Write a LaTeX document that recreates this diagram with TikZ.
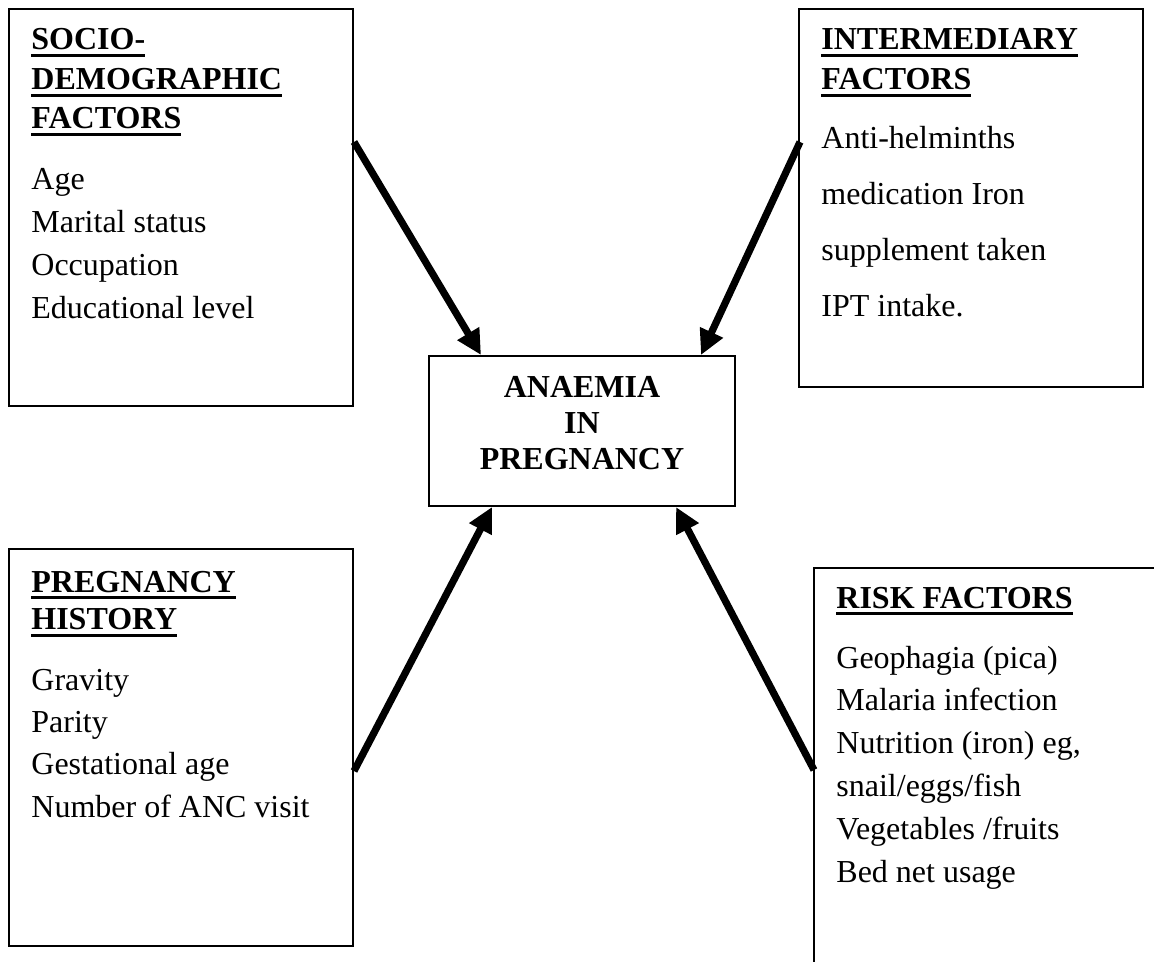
\documentclass[tikz,border=0pt]{standalone}
\usepackage{fontspec}
\setmainfont{Liberation Serif}
\usetikzlibrary{arrows.meta,calc}
\newcommand\hul[1]{\setbox0\hbox{#1}\rlap{\rule[-3.6pt]{\wd0}{1.5pt}}\box0}
\begin{document}
\begin{tikzpicture}[x=0.5pt,y=-0.5pt,
  box/.style={draw,line width=1pt,rectangle,inner sep=0pt},
  txt/.style={anchor=base west,inner sep=0pt,font=\fontsize{16}{19}\selectfont},
  head/.style={anchor=base west,inner sep=0pt,font=\fontsize{16}{19}\selectfont\bfseries},
  ctxt/.style={anchor=base,inner sep=0pt,font=\fontsize{16}{19}\selectfont\bfseries},
  arr/.style={line width=3.6pt,-{Triangle[length=12.5pt,width=12pt]}}]
\useasboundingbox (0,0) rectangle (1154,962);
\fill[white] (0,0) rectangle (1154,962);
% boxes
\node[box,minimum width=172pt,minimum height=198.5pt] (b1) at (181,207.5) {};
\node[box,minimum width=172pt,minimum height=189pt] (b2) at (971,198) {};
\node[box,minimum width=153pt,minimum height=75pt] (c) at (582,431) {};
\node[box,minimum width=172pt,minimum height=198.5pt] (b3) at (181,747.5) {};
\coordinate (b4) at (814,568);
\draw[line width=1pt] (1154,568) -- (b4) -- (814,962);
% box 1
\node[head] (h1a) at (31,50) {\hul{SOCIO-}};
\node[head] (h1b) at (31,89.5) {\hul{DEMOGRAPHIC}};
\node[head] (h1c) at (31,129) {\hul{FACTORS}};
\node[txt] (t1a) at (31,190) {Age};
\node[txt] (t1b) at (31,232.7) {Marital status};
\node[txt] (t1c) at (31,275.4) {Occupation};
\node[txt] (t1d) at (31,318) {Educational level};
% box 2
\node[head] (h2a) at (821,50) {\hul{INTERMEDIARY}};
\node[head] (h2b) at (821,89.5) {\hul{FACTORS}};
\node[txt] (t2a) at (821,149) {Anti-helminths};
\node[txt] (t2b) at (821,204.7) {medication Iron};
\node[txt] (t2c) at (821,260.4) {supplement taken};
\node[txt] (t2d) at (821,316) {IPT intake.};
% centre
\node[ctxt] (c1) at (582,397) {ANAEMIA};
\node[ctxt] (c2) at (582,433) {IN};
\node[ctxt] (c3) at (582,469.5) {PREGNANCY};
% box 3
\node[head] (h3a) at (31,592) {\hul{PREGNANCY}};
\node[head] (h3b) at (31,629.5) {\hul{HISTORY}};
\node[txt] (t3a) at (31,690) {Gravity};
\node[txt] (t3b) at (31,732.3) {Parity};
\node[txt] (t3c) at (31,774.7) {Gestational age};
\node[txt] (t3d) at (31,817) {Number of ANC visit};
% box 4
\node[head] (h4a) at (836,608) {\hul{RISK FACTORS}};
\node[txt] (t4a) at (836,668) {Geophagia (pica)};
\node[txt] (t4b) at (836,710.8) {Malaria infection};
\node[txt] (t4c) at (836,753.6) {Nutrition (iron) eg,};
\node[txt] (t4d) at (836,796.4) {snail/eggs/fish};
\node[txt] (t4e) at (836,839.2) {Vegetables /fruits};
\node[txt] (t4f) at (836,882) {Bed net usage};
% arrows
\draw[arr] ($(b1.north east)+(0,134)$) -- ($(c.north west)+(53,0)$);
\draw[arr] ($(b2.north west)+(2,134)$) -- ($(c.north east)+(-35,0)$);
\draw[arr] ($(b3.north east)+(0,223)$) -- ($(c.south west)+(64,0)$);
\draw[arr] ($(b4)+(0,202)$) -- ($(c.south east)+(-60,0)$);
\end{tikzpicture}
\end{document}
